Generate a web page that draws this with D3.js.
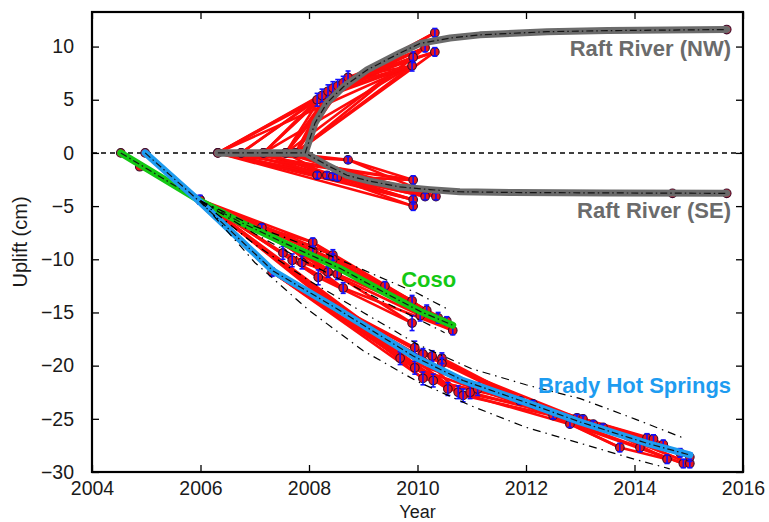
<!DOCTYPE html>
<html>
<head>
<meta charset="utf-8">
<script src="https://cdn.jsdelivr.net/npm/d3@7"></script>
<style>
  html, body { margin: 0; padding: 0; background: #fff; }
  svg { display: block; font-family: "Liberation Sans", Arial, Helvetica, sans-serif; }
</style>
</head>
<body>
<svg id="chart" width="769" height="522"></svg>
<script>
// ---- axes ----
const xTicks = [2004, 2006, 2008, 2010, 2012, 2014, 2016];
const yTicks = [-30, -25, -20, -15, -10, -5, 0, 5, 10];

// ---- model curves (year, uplift cm) ----
const rrNwModelT = [2006.32, 2007.93, 2008.11, 2008.33, 2008.63, 2009.07, 2009.68, 2010.05, 2010.6, 2011.15, 2012.39, 2013.5, 2014.6, 2015.7];
const rrNwModelV = [0, 0, 2.8, 4.7, 6.2, 7.8, 9.4, 10.3, 10.8, 11.1, 11.4, 11.5, 11.55, 11.6];
const rrSeModelT = [2006.32, 2007.93, 2008.33, 2008.7, 2009.12, 2009.68, 2010.23, 2010.78, 2011.76, 2013.5, 2015.7];
const rrSeModelV = [0, 0, -1.15, -2.1, -2.65, -3.2, -3.45, -3.65, -3.72, -3.76, -3.8];
const cosoModelT = [2004.53, 2005.99, 2006.73, 2007.6, 2008.57, 2009.49, 2010.05, 2010.65];
const cosoModelV = [0, -4.5, -6.5, -8.6, -10.85, -13.4, -14.9, -16.2];
const bradyModelT = [2004.98, 2005.99, 2007.34, 2008.5, 2009.92, 2010.84, 2012.02, 2013.0, 2014.23, 2015.02];
const bradyModelV = [0, -4.6, -11.1, -14.6, -19.1, -21.4, -23.5, -25.3, -27.3, -28.4];

// ---- model uncertainty bounds ----
const cosoUpperT = [2006.0, 2007.0, 2008.0, 2009.0, 2010.0, 2010.6];
const cosoUpperV = [-4.5, -6.9, -8.8, -11.0, -13.2, -14.8];
const cosoLowerT = [2006.0, 2007.0, 2008.0, 2009.0, 2010.0, 2010.5];
const cosoLowerV = [-4.5, -7.6, -10.4, -13.0, -15.6, -16.9];
const bradyUpperT = [2006.0, 2007.0, 2008.0, 2009.0, 2010.0, 2011.0, 2012.0, 2013.0, 2014.0, 2014.9];
const bradyUpperV = [-4.5, -8.6, -12.0, -15.0, -18.0, -20.3, -21.8, -23.1, -25.0, -26.8];
const bradyLowerT = [2006.0, 2007.0, 2008.0, 2009.0, 2010.0, 2011.0, 2012.0, 2013.0, 2014.0, 2014.65];
const bradyLowerV = [-4.5, -10.3, -14.8, -18.6, -21.5, -23.8, -25.8, -27.3, -28.8, -29.7];

// ---- InSAR epochs (year, uplift cm, 1-sigma cm) ----
const rrNwT = [2006.32, 2006.75, 2007.16, 2007.57, 2007.75, 2008.15, 2008.24, 2008.35, 2008.44, 2008.53, 2008.63, 2008.72, 2009.90, 2009.92, 2010.14, 2010.32, 2010.32, 2015.7];
const rrNwV = [0, 0, 0, 0, 0, 5.0, 5.4, 5.8, 6.1, 6.3, 6.6, 7.1, 8.2, 9.0, 9.9, 11.3, 9.5, 11.6];
const rrNwE = [0, 0, 0, 0, 0, 0.6, 0.6, 0.6, 0.6, 0.6, 0.6, 0.6, 0.5, 0.5, 0.4, 0.4, 0.4, 0];
const rrNwPairs = [[0,5],[0,6],[0,7],[1,5],[1,6],[2,5],[2,7],[2,8],[3,6],[3,8],[3,9],[3,10],[4,7],[4,9],[4,10],[4,11],
  [0,12],[2,12],[3,13],[4,12],[4,14],[4,16],
  [5,12],[5,13],[6,12],[6,14],[7,13],[7,15],[8,12],[8,16],[9,14],[9,13],[10,15],[10,16],[11,12],[11,14],[11,16]];

const rrSeT = [2006.32, 2006.75, 2007.16, 2007.57, 2008.15, 2008.33, 2008.44, 2008.52, 2008.72, 2009.92, 2009.92, 2009.92, 2010.14, 2010.34, 2014.7, 2015.7];
const rrSeV = [0, 0, 0, 0, -2.1, -2.1, -2.2, -2.3, -0.65, -2.55, -4.4, -5.0, -4.1, -4.1, -3.8, -3.8];
const rrSeE = [0, 0, 0, 0, 0.3, 0.3, 0.3, 0.3, 0.3, 0.4, 0.4, 0.4, 0.3, 0.3, 0, 0];
const rrSePairs = [[0,4],[0,5],[0,6],[0,7],[0,8],[1,5],[1,7],[2,4],[2,6],[3,5],[3,8],
  [0,9],[0,10],[0,11],[1,9],[2,10],[3,12],[3,13],
  [4,9],[4,10],[5,11],[5,12],[6,13],[6,9],[7,10],[7,12],[8,9],[8,13]];

const cosoT = [2004.53, 2004.88, 2005.99, 2007.13, 2007.52, 2007.69, 2007.87, 2008.07, 2008.07, 2008.17, 2008.35, 2008.44, 2008.44, 2008.52, 2008.63, 2009.4, 2009.9, 2009.9, 2010.05, 2010.17, 2010.38, 2010.54, 2010.65];
const cosoV = [0, -1.3, -4.4, -7.0, -9.4, -10.1, -10.3, -8.4, -9.2, -11.7, -11.2, -9.6, -10.0, -11.4, -12.7, -12.5, -13.9, -16.0, -15.3, -14.8, -15.5, -15.8, -16.7];
const cosoE = [0, 0, 0.4, 0.3, 0.6, 0.6, 0.6, 0.4, 0.4, 0.7, 0.5, 0.5, 0.5, 0.5, 0.5, 0.4, 0.5, 0.7, 0.5, 0.5, 0.5, 0.4, 0.4];
const cosoPairs = [[0,1],[1,2],[0,2],
  [2,3],[2,4],[2,5],[2,7],[2,8],[2,11],[2,12],[2,9],[2,13],
  [3,7],[3,8],[3,11],[3,12],[3,10],[3,14],[3,17],
  [4,9],[4,13],[5,14],[6,13],
  [7,16],[7,18],[8,19],[8,15],[11,20],[12,21],[9,17],[10,22],[13,20],[14,22],[15,16],[15,19],[16,22],[18,21]];

const bradyT = [2004.98, 2005.99, 2007.32, 2009.68, 2009.95, 2009.95, 2010.1, 2010.27, 2010.45, 2010.45, 2010.1, 2010.29, 2010.56, 2010.75, 2010.84, 2010.97, 2011.11,
  2011.89, 2012.13, 2012.5, 2012.81, 2012.94, 2013.05, 2013.24, 2013.42, 2013.73, 2014.1, 2014.23, 2014.35, 2014.53, 2014.6, 2014.84, 2014.9, 2015.02, 2015.02];
const bradyV = [0, -4.4, -11.2, -19.3, -18.3, -20.2, -18.9, -19.1, -19.3, -19.8, -21.2, -21.4, -22.2, -22.5, -22.8, -22.5, -22.2,
  -23.3, -23.6, -24.7, -25.5, -24.9, -25.0, -25.5, -25.8, -27.7, -27.7, -26.8, -26.9, -27.4, -28.8, -28.2, -29.2, -29.2, -28.6];
const bradyE = [0, 0.4, 0.4, 0.6, 0.6, 0.6, 0.5, 0.5, 0.5, 0.5, 0.6, 0.6, 0.6, 0.6, 0.6, 0.6, 0.6,
  0.3, 0.3, 0.3, 0.3, 0.3, 0.3, 0.3, 0.3, 0.4, 0.4, 0.4, 0.4, 0.4, 0.4, 0.4, 0.4, 0.4, 0.4];
const bradyPairs = [[0,1],[1,2],[0,2],
  [1,3],[1,5],[1,10],[1,11],[1,12],[1,13],[2,3],[2,4],[2,5],[2,6],[2,9],[2,10],[2,11],[2,12],[2,14],[2,16],
  [3,17],[4,18],[5,19],[6,17],[7,20],[8,19],[9,21],[10,17],[11,18],[12,22],[13,20],[14,19],[15,23],[16,24],[3,12],[4,13],
  [17,20],[17,25],[18,23],[19,26],[20,27],[21,29],[22,28],[23,31],[24,30],[19,25],[20,32],[21,33],[22,34],[18,27],[23,29],[24,33],[25,30],[26,32],[27,34],[28,31]];

// ---- labels ----
const siteLabels = ["Raft River (NW)", "Raft River (SE)", "Coso", "Brady Hot Springs"];
const siteLabelT = [2015.78, 2015.78, 2009.7, 2015.78];
const siteLabelV = [9.1, -6.1, -12.6, -22.55];

// ---- drawing ----
const svg = d3.select("#chart");
const x = d3.scaleLinear().domain([2004, 2016]).range([92, 743]);
const y = d3.scaleLinear().domain([-30, 13.25]).range([472, 12]);

const colGray = "#6b6b6b", colGreen = "#14c814", colBlue = "#1e9cf0", colRed = "#ff0a0a";

const line = d3.line().x(d => x(d[0])).y(d => y(d[1]));
const zip = (t, v) => t.map((d, i) => [d, v[i]]);

const plot = svg.append("g");

// zero reference
plot.append("line")
  .attr("x1", x(2004)).attr("x2", x(2016)).attr("y1", y(0)).attr("y2", y(0))
  .attr("stroke", "#000").attr("stroke-width", 1.5).attr("stroke-dasharray", "5,4");

// interferogram pairs
function drawPairs(t, v, pairs) {
  plot.append("g").selectAll("line").data(pairs).join("line")
    .attr("x1", p => x(t[p[0]])).attr("y1", p => y(v[p[0]]))
    .attr("x2", p => x(t[p[1]])).attr("y2", p => y(v[p[1]]))
    .attr("stroke", colRed).attr("stroke-width", 2.6).attr("stroke-linecap", "round");
}
drawPairs(rrNwT, rrNwV, rrNwPairs);
drawPairs(rrSeT, rrSeV, rrSePairs);
drawPairs(cosoT, cosoV, cosoPairs);
drawPairs(bradyT, bradyV, bradyPairs);

// epoch markers with error bars
function drawEpochs(t, v, e) {
  const pts = t.map((d, i) => ({ t: d, v: v[i], e: e[i] }));
  const g = plot.append("g");
  g.selectAll("circle").data(pts).join("circle")
    .attr("cx", d => x(d.t)).attr("cy", d => y(d.v)).attr("r", 4.3)
    .attr("fill", "#e8141e").attr("stroke", "#3a0a2a").attr("stroke-width", 1.1);
  const eb = g.selectAll("g.eb").data(pts.filter(d => d.e > 0)).join("g").attr("class", "eb")
    .attr("stroke", "#1010ff").attr("stroke-width", 1.6);
  eb.append("line")
    .attr("x1", d => x(d.t)).attr("x2", d => x(d.t))
    .attr("y1", d => y(d.v + d.e)).attr("y2", d => y(d.v - d.e));
  eb.append("line")
    .attr("x1", d => x(d.t) - 2.5).attr("x2", d => x(d.t) + 2.5)
    .attr("y1", d => y(d.v + d.e)).attr("y2", d => y(d.v + d.e));
  eb.append("line")
    .attr("x1", d => x(d.t) - 2.5).attr("x2", d => x(d.t) + 2.5)
    .attr("y1", d => y(d.v - d.e)).attr("y2", d => y(d.v - d.e));
}
drawEpochs(rrNwT, rrNwV, rrNwE);
drawEpochs(rrSeT, rrSeV, rrSeE);
drawEpochs(cosoT, cosoV, cosoE);
drawEpochs(bradyT, bradyV, bradyE);

// model curves with dash-dot overlay
function drawModel(t, v, col) {
  const d = zip(t, v);
  plot.append("path").attr("d", line(d)).attr("fill", "none")
    .attr("stroke", col).attr("stroke-width", 7).attr("stroke-linejoin", "round").attr("stroke-linecap", "round");
  plot.append("path").attr("d", line(d)).attr("fill", "none")
    .attr("stroke", "#151515").attr("stroke-width", 1.2).attr("stroke-dasharray", "7,3,1.5,3");
}
drawModel(rrSeModelT, rrSeModelV, colGray);
drawModel(rrNwModelT, rrNwModelV, colGray);
drawModel(cosoModelT, cosoModelV, colGreen);
drawModel(bradyModelT, bradyModelV, colBlue);

// uncertainty bounds
function drawBound(t, v) {
  plot.append("path").attr("d", line(zip(t, v))).attr("fill", "none")
    .attr("stroke", "#000").attr("stroke-width", 1.2).attr("stroke-dasharray", "8,5,1.5,5");
}
drawBound(cosoUpperT, cosoUpperV);
drawBound(cosoLowerT, cosoLowerV);
drawBound(bradyUpperT, bradyUpperV);
drawBound(bradyLowerT, bradyLowerV);

// site labels
const labelCols = [colGray, colGray, colGreen, colBlue];
const labelAnchor = ["end", "end", "start", "end"];
svg.append("g").selectAll("text").data(siteLabels).join("text")
  .attr("x", (d, i) => x(siteLabelT[i])).attr("y", (d, i) => y(siteLabelV[i]))
  .attr("text-anchor", (d, i) => labelAnchor[i])
  .attr("fill", (d, i) => labelCols[i])
  .attr("font-size", 22).attr("font-weight", "bold")
  .text(d => d);

// frame and axes
const fmt = d => d < 0 ? "\u2212" + Math.abs(d) : String(d);
const axB = svg.append("g").attr("transform", `translate(0,${y(-30)})`)
  .call(d3.axisBottom(x).tickValues(xTicks).tickFormat(d3.format("d")).tickSizeInner(-7).tickSizeOuter(0).tickPadding(9));
const axL = svg.append("g").attr("transform", `translate(${x(2004)},0)`)
  .call(d3.axisLeft(y).tickValues(yTicks).tickFormat(fmt).tickSizeInner(-7).tickSizeOuter(0).tickPadding(18));
const axT = svg.append("g").attr("transform", `translate(0,${y(13.25)})`)
  .call(d3.axisTop(x).tickValues(xTicks).tickFormat("").tickSizeInner(-7).tickSizeOuter(0));
const axR = svg.append("g").attr("transform", `translate(${x(2016)},0)`)
  .call(d3.axisRight(y).tickValues(yTicks).tickFormat("").tickSizeInner(-7).tickSizeOuter(0));
[axB, axL, axT, axR].forEach(a => {
  a.select(".domain").remove();
  a.selectAll(".tick line").attr("stroke", "#000").attr("stroke-width", 1.3);
  a.selectAll("text").attr("font-size", 19.5).attr("fill", "#1a1a1a").attr("font-family", "Liberation Sans, Arial, sans-serif");
});
svg.append("rect")
  .attr("x", x(2004)).attr("y", y(13.25))
  .attr("width", x(2016) - x(2004)).attr("height", y(-30) - y(13.25))
  .attr("fill", "none").attr("stroke", "#000").attr("stroke-width", 2.2);

svg.append("text").attr("x", (x(2004) + x(2016)) / 2).attr("y", 518)
  .attr("text-anchor", "middle").attr("font-size", 18).attr("fill", "#1a1a1a").text("Year");
svg.append("text").attr("transform", `translate(27,${(y(-30) + y(13.25)) / 2}) rotate(-90)`)
  .attr("text-anchor", "middle").attr("font-size", 20).attr("fill", "#1a1a1a").text("Uplift (cm)");
</script>
</body>
</html>
